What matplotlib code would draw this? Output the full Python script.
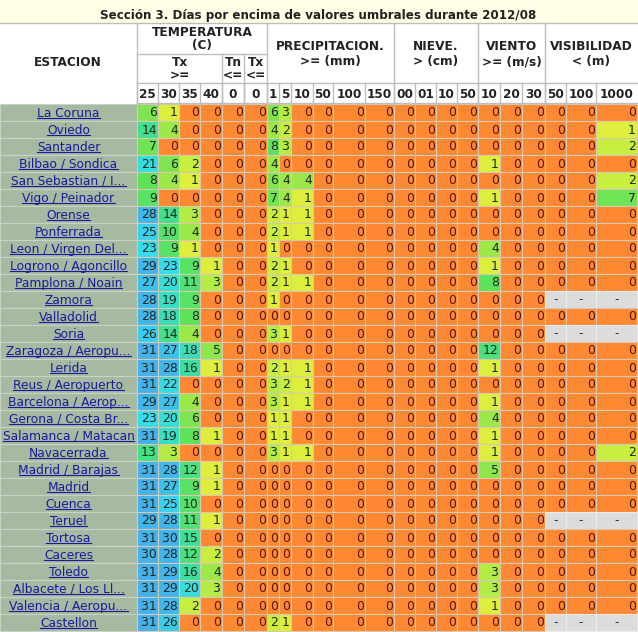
import matplotlib
matplotlib.use("Agg")
import matplotlib.pyplot as plt
from matplotlib.colors import LinearSegmentedColormap, Normalize
from matplotlib.patches import Rectangle

# Stations and monthly counts of days above/below each threshold (2012/08)
stations = ["La Coruna", "Oviedo", "Santander", "Bilbao / Sondica", "San Sebastian / I...",
            "Vigo / Peinador", "Orense", "Ponferrada", "Leon / Virgen Del...", "Logrono / Agoncillo",
            "Pamplona / Noain", "Zamora", "Valladolid", "Soria", "Zaragoza / Aeropu...",
            "Lerida", "Reus / Aeropuerto", "Barcelona / Aerop...", "Gerona / Costa Br...",
            "Salamanca / Matacan", "Navacerrada", "Madrid / Barajas", "Madrid", "Cuenca",
            "Teruel", "Tortosa", "Caceres", "Toledo", "Albacete / Los Ll...",
            "Valencia / Aeropu...", "Castellon"]

# Tx >= 25, 30, 35, 40
tx_ge = [[6, 1, 0, 0], [14, 4, 0, 0], [7, 0, 0, 0], [21, 6, 2, 0], [8, 4, 1, 0],
         [9, 0, 0, 0], [28, 14, 3, 0], [25, 10, 4, 0], [23, 9, 1, 0], [29, 23, 9, 1],
         [27, 20, 11, 3], [28, 19, 9, 0], [28, 18, 8, 0], [26, 14, 4, 0], [31, 27, 18, 5],
         [31, 28, 16, 1], [31, 22, 0, 0], [29, 27, 4, 0], [23, 20, 6, 0], [31, 19, 8, 1],
         [13, 3, 0, 0], [31, 28, 12, 1], [31, 27, 9, 1], [31, 25, 10, 0], [29, 28, 11, 1],
         [31, 30, 15, 0], [30, 28, 12, 2], [31, 29, 16, 4], [31, 29, 20, 3], [31, 28, 2, 0],
         [31, 26, 0, 0]]
# Tn <= 0
tn_le = [0, 0, 0, 0, 0, 0, 0, 0, 0, 0, 0, 0, 0, 0, 0, 0, 0, 0, 0, 0, 0, 0, 0, 0, 0, 0, 0, 0, 0, 0, 0]
# Tx <= 0
tx_le = [0, 0, 0, 0, 0, 0, 0, 0, 0, 0, 0, 0, 0, 0, 0, 0, 0, 0, 0, 0, 0, 0, 0, 0, 0, 0, 0, 0, 0, 0, 0]
# Precipitation >= 1, 5, 10, 50, 100, 150 mm
precip = [[6, 3, 0, 0, 0, 0], [4, 2, 0, 0, 0, 0], [8, 3, 0, 0, 0, 0], [4, 0, 0, 0, 0, 0],
          [6, 4, 4, 0, 0, 0], [7, 4, 1, 0, 0, 0], [2, 1, 1, 0, 0, 0], [2, 1, 1, 0, 0, 0],
          [1, 0, 0, 0, 0, 0], [2, 1, 0, 0, 0, 0], [2, 1, 1, 0, 0, 0], [1, 0, 0, 0, 0, 0],
          [0, 0, 0, 0, 0, 0], [3, 1, 0, 0, 0, 0], [0, 0, 0, 0, 0, 0], [2, 1, 1, 0, 0, 0],
          [3, 2, 1, 0, 0, 0], [3, 1, 1, 0, 0, 0], [1, 1, 0, 0, 0, 0], [1, 1, 0, 0, 0, 0],
          [3, 1, 1, 0, 0, 0], [0, 0, 0, 0, 0, 0], [0, 0, 0, 0, 0, 0], [0, 0, 0, 0, 0, 0],
          [0, 0, 0, 0, 0, 0], [0, 0, 0, 0, 0, 0], [0, 0, 0, 0, 0, 0], [0, 0, 0, 0, 0, 0],
          [0, 0, 0, 0, 0, 0], [0, 0, 0, 0, 0, 0], [2, 1, 0, 0, 0, 0]]
# Snow > 00, 01, 10, 50 cm (all zero)
nieve = [[0, 0, 0, 0], [0, 0, 0, 0], [0, 0, 0, 0], [0, 0, 0, 0], [0, 0, 0, 0],
         [0, 0, 0, 0], [0, 0, 0, 0], [0, 0, 0, 0], [0, 0, 0, 0], [0, 0, 0, 0],
         [0, 0, 0, 0], [0, 0, 0, 0], [0, 0, 0, 0], [0, 0, 0, 0], [0, 0, 0, 0],
         [0, 0, 0, 0], [0, 0, 0, 0], [0, 0, 0, 0], [0, 0, 0, 0], [0, 0, 0, 0],
         [0, 0, 0, 0], [0, 0, 0, 0], [0, 0, 0, 0], [0, 0, 0, 0], [0, 0, 0, 0],
         [0, 0, 0, 0], [0, 0, 0, 0], [0, 0, 0, 0], [0, 0, 0, 0], [0, 0, 0, 0],
         [0, 0, 0, 0]]
# Wind >= 10, 20, 30 m/s
viento = [[0, 0, 0], [0, 0, 0], [0, 0, 0], [1, 0, 0], [0, 0, 0], [1, 0, 0], [0, 0, 0],
          [0, 0, 0], [4, 0, 0], [1, 0, 0], [8, 0, 0], [0, 0, 0], [0, 0, 0], [0, 0, 0],
          [12, 0, 0], [1, 0, 0], [0, 0, 0], [1, 0, 0], [4, 0, 0], [1, 0, 0], [1, 0, 0],
          [5, 0, 0], [0, 0, 0], [0, 0, 0], [0, 0, 0], [0, 0, 0], [0, 0, 0], [3, 0, 0],
          [3, 0, 0], [1, 0, 0], [0, 0, 0]]
# Visibility < 50, 100, 1000 m  (None = no data)
visib = [[0, 0, 0], [0, 0, 1], [0, 0, 2], [0, 0, 0], [0, 0, 2], [0, 0, 7], [0, 0, 0],
         [0, 0, 0], [0, 0, 0], [0, 0, 0], [0, 0, 0], [None, None, None], [0, 0, 0],
         [None, None, None], [0, 0, 0], [0, 0, 0], [0, 0, 0], [0, 0, 0], [0, 0, 0],
         [0, 0, 0], [0, 0, 2], [0, 0, 0], [0, 0, 0], [0, 0, 0], [None, None, None],
         [0, 0, 0], [0, 0, 0], [0, 0, 0], [0, 0, 0], [0, 0, 0], [None, None, None]]

thresholds = ["25", "30", "35", "40", "0", "0", "1", "5", "10", "50", "100", "150",
              "00", "01", "10", "50", "10", "20", "30", "50", "100", "1000"]

# layout in pixels
W, H = 638, 632
col_edges = [0, 137, 158, 179, 200, 222, 244, 267, 279, 291, 313, 333, 365, 394,
             415, 436, 457, 478, 500, 522, 545, 566, 596, 637]
table_top = 23
head_mid = 54
thr_top = 83
data_top = 104
row_h = 17

cmap = LinearSegmentedColormap.from_list("umbral", [
    (0.0, "#ff8833"), (1 / 31, "#dcf23c"), (4 / 31, "#9ce848"), (8 / 31, "#5ee25a"),
    (13 / 31, "#44e085"), (17 / 31, "#3adda8"), (20 / 31, "#33dfd6"),
    (23 / 31, "#34dcee"), (26 / 31, "#38ccf0"), (28 / 31, "#40b6ee"), (1.0, "#44b0ec")])
norm = Normalize(0, 31)

fig = plt.figure(figsize=(W / 100, H / 100), dpi=100)
fig.patch.set_facecolor("#ffffe6")
ax = fig.add_axes([0, 0, 1, 1])
ax.set_xlim(0, W)
ax.set_ylim(H, 0)
ax.axis("off")

ax.text(318, 15.5, "Sección 3. Días por encima de valores umbrales durante 2012/08",
        ha="center", va="center", fontsize=8.6, fontweight="bold", color="#222222")

# header block
ax.add_patch(Rectangle((0, table_top), W, data_top - table_top, facecolor="white",
                       edgecolor="none"))
hc = "#bdbdbd"
ax.plot([0, W], [table_top, table_top], color=hc, lw=1)
ax.plot([137, 267], [head_mid, head_mid], color=hc, lw=1)
ax.plot([137, W], [thr_top, thr_top], color=hc, lw=1)
ax.plot([137, W], [data_top - 1, data_top - 1], color=hc, lw=1)
for x in [137, 267, 394, 478, 545]:
    ax.plot([x, x], [table_top, data_top], color=hc, lw=1)
for x in [222, 244]:
    ax.plot([x, x], [head_mid, data_top], color=hc, lw=1)
for x in col_edges[1:-1]:
    ax.plot([x, x], [thr_top, data_top], color=hc, lw=1)

hfont = dict(ha="center", va="center", fontsize=8.7, fontweight="bold", color="#222222")
ax.text(68, 63, "ESTACION", **hfont)
ax.text(202, 32, "TEMPERATURA", **hfont)
ax.text(202, 46, "(C)", **hfont)
ax.text(180, 63, "Tx", **hfont)
ax.text(180, 76, ">=", **hfont)
ax.text(233, 63, "Tn", **hfont)
ax.text(233, 76, "<=", **hfont)
ax.text(255.5, 63, "Tx", **hfont)
ax.text(255.5, 76, "<=", **hfont)
groups = [(330.5, "PRECIPITACION.", ">= (mm)"), (436, "NIEVE.", "> (cm)"),
          (511.5, "VIENTO", ">= (m/s)"), (591, "VISIBILIDAD", "< (m)")]
for gx, name, unit in groups:
    ax.text(gx, 47, name, **hfont)
    ax.text(gx, 62, unit, **hfont)
for i, lab in enumerate(thresholds):
    cx = (col_edges[i + 1] + col_edges[i + 2]) / 2
    ax.text(cx, 94.5, lab, **hfont)

# data rows
name_texts = []
for r, st in enumerate(stations):
    y0 = data_top + r * row_h
    cy = y0 + row_h / 2
    ax.add_patch(Rectangle((0, y0), 137, row_h, facecolor="#a6b9a1", edgecolor="#c9d2c4", lw=0.8))
    t = ax.text(68.5, cy + 4.2, st, ha="center", va="baseline", fontsize=8.8, color="#1a1a9c")
    name_texts.append(t)
    values = tx_ge[r] + [tn_le[r], tx_le[r]] + precip[r] + nieve[r] + viento[r] + visib[r]
    for c, v in enumerate(values):
        x0, x1 = col_edges[c + 1], col_edges[c + 2]
        if v is None:
            ax.add_patch(Rectangle((x0, y0), x1 - x0, row_h, facecolor="#dcdcdc",
                                   edgecolor="#ececec", lw=0.8))
            ax.text((x0 + x1) / 2, cy, "-", ha="center", va="center", fontsize=8.8,
                    color="#333333")
            continue
        ax.add_patch(Rectangle((x0, y0), x1 - x0, row_h, facecolor=cmap(norm(v)),
                               edgecolor="#d9c9b0", lw=0.8))
        tc = "#5a1500" if v == 0 else "#1e2a1e"
        ax.text(x1 - 1.2, cy + 0.5, str(v), ha="right", va="center", fontsize=8.9, color=tc)

# underline the station links
fig.canvas.draw()
rend = fig.canvas.get_renderer()
inv = ax.transData.inverted()
for r, t in enumerate(name_texts):
    bb = t.get_window_extent(rend).transformed(inv)
    yl = data_top + r * row_h + row_h / 2 + 5.8
    ax.plot([bb.x0, bb.x1], [yl, yl], color="#1a1a9c", lw=0.8)

fig.savefig("out.png", dpi=100, facecolor=fig.get_facecolor())
